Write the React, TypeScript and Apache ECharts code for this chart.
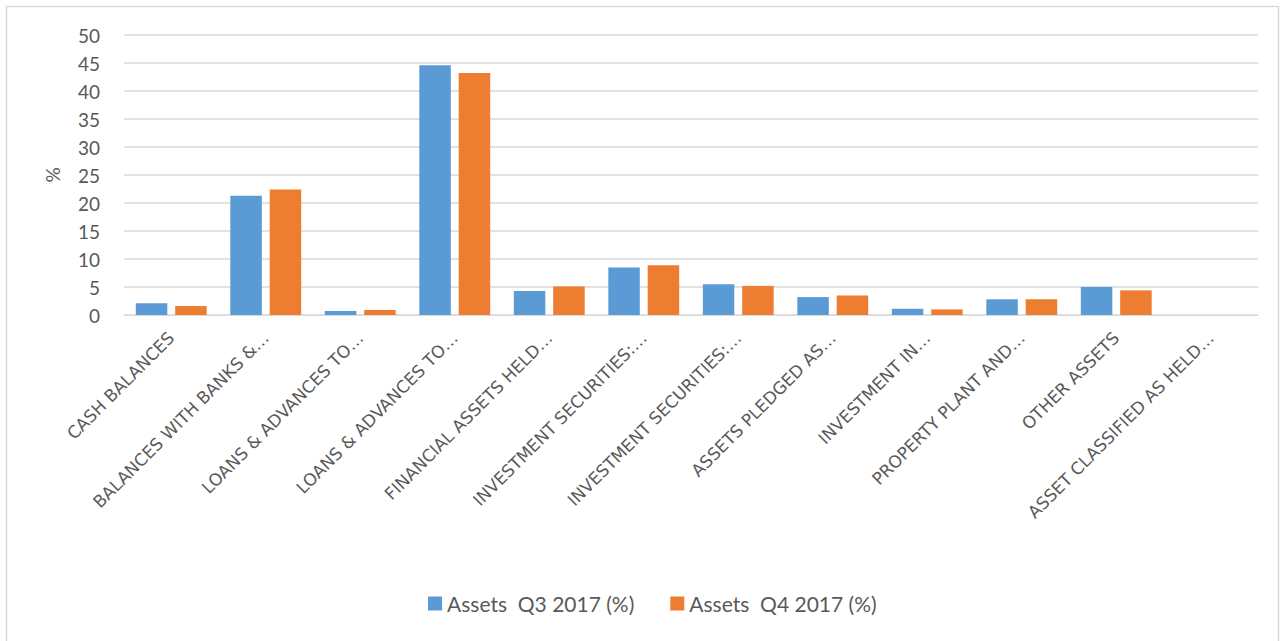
import React, { useEffect, useRef } from "react";
import * as echarts from "echarts";

const categories = [
  "CASH BALANCES",
  "BALANCES WITH BANKS &…",
  "LOANS & ADVANCES TO…",
  "LOANS & ADVANCES TO…",
  "FINANCIAL ASSETS HELD…",
  "INVESTMENT SECURITIES:…",
  "INVESTMENT SECURITIES:…",
  "ASSETS PLEDGED AS…",
  "INVESTMENT IN…",
  "PROPERTY PLANT AND…",
  "OTHER ASSETS",
  "ASSET CLASSIFIED AS HELD…",
];

const seriesNames = ["Assets  Q3 2017 (%)", "Assets  Q4 2017 (%)"];
const q3Values = [2.1, 21.3, 0.7, 44.6, 4.3, 8.5, 5.5, 3.2, 1.1, 2.8, 5.0, 0];
const q4Values = [1.6, 22.4, 0.9, 43.2, 5.1, 8.9, 5.2, 3.5, 1.0, 2.8, 4.4, 0];

const FONT = "Lato, 'Open Sans', sans-serif";
const LABEL_FONT = "'DejaVu Sans', sans-serif";
const TEXT = "#595959";
const GRID = "#D9D9D9";

export default function App() {
  const ref = useRef<HTMLDivElement>(null);
  useEffect(() => {
    document.body.style.margin = "0";
    if (!ref.current) return;
    const chart = echarts.init(ref.current, null, { renderer: "svg" });
    chart.setOption({
      animation: false,
      backgroundColor: "#ffffff",
      textStyle: { fontFamily: FONT },
      graphic: [
        {
          type: "rect",
          shape: { x: 6.5, y: 6.5, width: 1272, height: 660 },
          style: { fill: "none", stroke: GRID, lineWidth: 1.5 },
          silent: true,
        },
      ],
      grid: { left: 124, right: 26, top: 35, bottom: 326 },
      legend: {
        bottom: 22,
        left: 423,
        itemWidth: 14,
        itemHeight: 14,
        itemGap: 36,
        icon: "rect",
        textStyle: { color: TEXT, fontSize: 21, fontFamily: FONT },
        data: seriesNames,
      },
      xAxis: {
        type: "category",
        data: categories,
        axisLine: { lineStyle: { color: GRID, width: 1 } },
        axisTick: { show: false },
        axisLabel: {
          interval: 0,
          rotate: 45,
          color: TEXT,
          fontSize: 17,
          fontFamily: LABEL_FONT,
          margin: 20,
        },
      },
      yAxis: {
        type: "value",
        min: 0,
        max: 50,
        interval: 5,
        name: "%",
        nameLocation: "middle",
        nameRotate: 90,
        nameGap: 62,
        nameTextStyle: { color: TEXT, fontSize: 19, fontFamily: FONT },
        axisLine: { show: false },
        axisTick: { show: false },
        axisLabel: { color: TEXT, fontSize: 19, fontFamily: FONT, margin: 24 },
        splitLine: { lineStyle: { color: GRID, width: 1.5 } },
      },
      series: [
        {
          name: seriesNames[0],
          type: "bar",
          data: q3Values,
          itemStyle: { color: "#5B9BD5" },
          barGap: "25%",
          barCategoryGap: "25%",
        },
        {
          name: seriesNames[1],
          type: "bar",
          data: q4Values,
          itemStyle: { color: "#ED7D31" },
          barGap: "25%",
          barCategoryGap: "25%",
        },
      ],
    });
    return () => chart.dispose();
  }, []);
  return <div ref={ref} style={{ width: 1284, height: 641 }} />;
}
